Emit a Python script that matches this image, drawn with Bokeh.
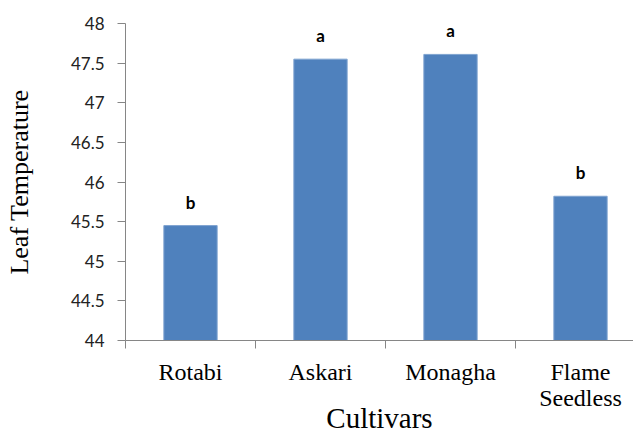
from bokeh.plotting import figure
from bokeh.models import ColumnDataSource, Range1d, FixedTicker, NumeralTickFormatter
from bokeh.core.properties import value
from bokeh.embed import file_html
from bokeh.resources import INLINE

cultivars = ["Rotabi", "Askari", "Monagha", "Flame\nSeedless"]
leaf_temp = [45.45, 47.55, 47.61, 45.82]
letters = ["b", "a", "a", "b"]
y_ticks = [44, 44.5, 45, 45.5, 46, 46.5, 47, 47.5, 48]

xs = list(range(1, len(cultivars) + 1))
src = ColumnDataSource(dict(x=xs, top=leaf_temp, lab=letters))

p = figure(width=633, height=436, output_backend="svg", toolbar_location=None,
           x_range=Range1d(0.5, 0.5 + 508 / 130), y_range=Range1d(44, 48),
           min_border_left=125, min_border_right=0, min_border_top=23, min_border_bottom=94)
p.outline_line_color = None
p.xgrid.visible = False
p.ygrid.visible = False
p.background_fill_color = "white"
p.border_fill_color = "white"

p.vbar(x="x", top="top", bottom=44, width=0.41, source=src,
       fill_color="#4F81BD", line_color="#7FA3D0", line_width=1)
p.text(x="x", y="top", text="lab", source=src, y_offset=-13,
       text_align="center", text_baseline="bottom",
       text_font=value("Lato"), text_font_style="bold", text_font_size="17px",
       text_color="black")

ax = p.xaxis[0]
ax.ticker = FixedTicker(ticks=xs, minor_ticks=[0.5, 1.5, 2.5, 3.5, 4.5])
ax.major_label_overrides = {i: c for i, c in zip(xs, cultivars)}
ax.major_tick_line_color = None
ax.major_tick_out = 0
ax.major_tick_in = 0
ax.minor_tick_out = 8
ax.minor_tick_in = 0
ax.minor_tick_line_color = "#868686"
ax.axis_line_color = "#868686"
ax.major_label_text_font = "Liberation Serif"
ax.major_label_text_font_size = "24px"
ax.major_label_text_color = "black"
ax.major_label_text_line_height = 1.0
ax.major_label_standoff = 10
ax.axis_label = "Cultivars"
ax.axis_label_text_font = "Liberation Serif"
ax.axis_label_text_font_size = "29px"
ax.axis_label_text_font_style = "normal"
ax.axis_label_text_color = "black"
ax.axis_label_standoff = -12

ay = p.yaxis[0]
ay.ticker = FixedTicker(ticks=y_ticks)
ay.formatter = NumeralTickFormatter(format="0.[0]")
ay.minor_tick_line_color = None
ay.major_tick_out = 8
ay.major_tick_in = 0
ay.major_tick_line_color = "#868686"
ay.axis_line_color = "#868686"
ay.major_label_text_font = "Lato"
ay.major_label_text_font_size = "17px"
ay.major_label_text_color = "#222222"
ay.major_label_standoff = 13
ay.axis_label = "Leaf Temperature"
ay.axis_label_text_font = "Liberation Serif"
ay.axis_label_text_font_size = "26px"
ay.axis_label_text_font_style = "normal"
ay.axis_label_text_color = "black"
ay.axis_label_standoff = 34

open("out.html", "w").write(file_html(p, INLINE))
